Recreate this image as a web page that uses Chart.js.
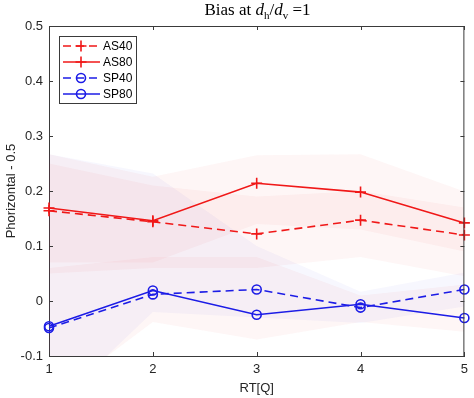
<!DOCTYPE html>
<html><head><meta charset="utf-8">
<script src="https://cdn.jsdelivr.net/npm/chart.js@4.4.1/dist/chart.umd.min.js"></script>
<style>
html,body{margin:0;padding:0;background:#fff;}
#wrap{position:relative;width:474px;height:398px;}
#title{position:absolute;left:0;width:515px;top:-1px;text-align:center;font-family:"Liberation Serif","Times New Roman",serif;font-size:17px;line-height:22px;color:#000;}
#title sub{font-size:11px;line-height:0;}
canvas{position:absolute;left:0;top:0;}
</style></head>
<body>
<div id="wrap">
<canvas id="c" width="474" height="398"></canvas>
<div id="title">Bias at <i>d</i><sub>h</sub>/<i>d</i><sub>v</sub> =1</div>
</div>
<script>
const categories = ['1','2','3','4','5'];
const seriesNames = ['AS40','AS80','SP40','SP80'];
const as40 = [0.164, 0.144, 0.122, 0.147, 0.120];
const as80 = [0.169, 0.146, 0.214, 0.198, 0.142];
const sp40 = [-0.049, 0.012, 0.021, -0.012, 0.021];
const sp80 = [-0.046, 0.019, -0.025, -0.006, -0.031];
// shaded bands (upper / lower)
const as80Upper = [0.267, 0.226, 0.265, 0.267, 0.199];
const as80Lower = [0.070, 0.070, 0.140, 0.130, 0.090];
const as40Upper = [0.250, 0.210, 0.190, 0.200, 0.170];
const as40Lower = [0.050, 0.060, 0.060, 0.080, 0.045];
const sp40Upper = [0.267, 0.232, 0.100, 0.017, 0.052];
const sp40Lower = [-0.200, -0.020, -0.030, -0.040, -0.010];
const sp80Upper = [0.060, 0.080, 0.080, 0.010, 0.030];
const sp80Lower = [-0.180, -0.038, -0.070, -0.038, -0.056];
const yTickValues = [-0.1, 0, 0.1, 0.2, 0.3, 0.4, 0.5];
const yTickLabels = ['-0.1', '0', '0.1', '0.2', '0.3', '0.4', '0.5'];

const RED = '#f01818';
const BLUE = '#1c1ce6';
const PINK = 'rgba(240,40,40,0.045)';
const LAV = 'rgba(60,60,230,0.045)';
const DASH = [8, 5];

function band(up, lo, color) {
  return [
    {data: up, borderWidth: 0, pointRadius: 0, fill: '+1', backgroundColor: color, order: 10, isBand: true},
    {data: lo, borderWidth: 0, pointRadius: 0, fill: false, backgroundColor: color, order: 10, isBand: true}
  ];
}
function line(label, d, color, dashed, style) {
  return {label: label, data: d, borderColor: color, backgroundColor: 'rgba(0,0,0,0)',
    borderWidth: 1.6, borderDash: dashed ? DASH : [], pointStyle: style,
    pointRadius: style === 'cross' ? 5.5 : 4.5, pointBorderWidth: 1.6,
    pointBorderColor: color, pointBackgroundColor: 'rgba(0,0,0,0)', fill: false, tension: 0, order: 0};
}

const AX = '#3a3a3a';
const boxTicks = {
  id: 'boxTicks',
  afterDatasetsDraw(chart) {
    const {ctx, chartArea: a, scales: {x, y}} = chart;
    ctx.save();
    ctx.strokeStyle = AX; ctx.lineWidth = 1;
    ctx.beginPath();
    ctx.moveTo(a.left, a.top + 0.5); ctx.lineTo(a.right, a.top + 0.5);
    ctx.moveTo(a.right - 0.5, a.top); ctx.lineTo(a.right - 0.5, a.bottom);
    const L = 4;
    x.ticks.forEach((t, i) => {
      const px = Math.round(x.getPixelForTick(i)) + 0.5;
      ctx.moveTo(px, a.bottom); ctx.lineTo(px, a.bottom - L);
      ctx.moveTo(px, a.top); ctx.lineTo(px, a.top + L);
    });
    yTickValues.forEach(v => {
      const py = Math.round(y.getPixelForValue(v)) + 0.5;
      ctx.moveTo(a.left, py); ctx.lineTo(a.left + L, py);
      ctx.moveTo(a.right, py); ctx.lineTo(a.right - L, py);
    });
    ctx.stroke();
    ctx.restore();
  }
};

const legendBox = {
  id: 'legendBox',
  afterDatasetsDraw(chart) {
    const ctx = chart.ctx;
    const lines = chart.data.datasets.filter(d => !d.isBand);
    const bx = 59.5, by = 36.5, bw = 77, bh = 67;
    ctx.save();
    ctx.fillStyle = '#fff';
    ctx.fillRect(bx, by, bw, bh);
    ctx.strokeStyle = AX; ctx.lineWidth = 1;
    ctx.strokeRect(bx, by, bw, bh);
    ctx.font = '12px "Liberation Sans", Arial, sans-serif';
    ctx.textBaseline = 'middle';
    lines.forEach((d, i) => {
      const yy = 46 + i * 16;
      ctx.strokeStyle = d.borderColor; ctx.lineWidth = 1.6;
      ctx.setLineDash(d.borderDash);
      ctx.beginPath(); ctx.moveTo(63, yy); ctx.lineTo(100, yy); ctx.stroke();
      ctx.setLineDash([]);
      ctx.fillStyle = 'rgba(0,0,0,0)';
      ctx.strokeStyle = d.borderColor;
      Chart.helpers.drawPoint(ctx, {pointStyle: d.pointStyle, radius: d.pointRadius, rotation: 0, borderWidth: 1.6}, 81, yy);
      ctx.fillStyle = '#000';
      ctx.fillText(d.label, 103, yy + 1);
    });
    ctx.restore();
  }
};

new Chart(document.getElementById('c'), {
  type: 'line',
  data: {
    labels: categories,
    datasets: [
      ...band(as80Upper, as80Lower, PINK),
      ...band(as40Upper, as40Lower, PINK),
      ...band(sp40Upper, sp40Lower, LAV),
      ...band(sp80Upper, sp80Lower, PINK),
      line(seriesNames[0], as40, RED, true, 'cross'),
      line(seriesNames[1], as80, RED, false, 'cross'),
      line(seriesNames[2], sp40, BLUE, true, 'circle'),
      line(seriesNames[3], sp80, BLUE, false, 'circle')
    ]
  },
  options: {
    responsive: false, animation: false, devicePixelRatio: 1,
    layout: {padding: {top: 26, right: 8, left: 0, bottom: 0}},
    plugins: {legend: {display: false}, tooltip: {enabled: false}, title: {display: false}},
    scales: {
      x: {
        offset: false,
        grid: {display: true, drawOnChartArea: false, drawTicks: false},
        border: {display: true, color: AX, width: 1},
        ticks: {padding: 6, color: '#262626', font: {family: '"Liberation Sans", Arial, sans-serif', size: 13}, maxRotation: 0},
        title: {display: true, text: 'RT[Q]', color: '#262626', font: {family: '"Liberation Sans", Arial, sans-serif', size: 13}, padding: {top: 0, bottom: 2}},
        afterFit(s) { s.height = 42; }
      },
      y: {
        min: -0.1, max: 0.5,
        grid: {display: true, drawOnChartArea: false, drawTicks: false},
        border: {display: true, color: AX, width: 1},
        afterBuildTicks(s) { s.ticks = yTickValues.map(v => ({value: v})); },
        ticks: {padding: 6, color: '#262626', font: {family: '"Liberation Sans", Arial, sans-serif', size: 13},
          callback: (v) => { const i = yTickValues.findIndex(t => Math.abs(t - v) < 1e-9); return i >= 0 ? yTickLabels[i] : ''; }},
        title: {display: true, text: 'Phorizontal - 0.5', color: '#262626', font: {family: '"Liberation Sans", Arial, sans-serif', size: 13}, padding: {top: 4, bottom: 0}},
        afterFit(s) { s.width = 49; }
      }
    }
  },
  plugins: [boxTicks, legendBox]
});
</script>
</body></html>
